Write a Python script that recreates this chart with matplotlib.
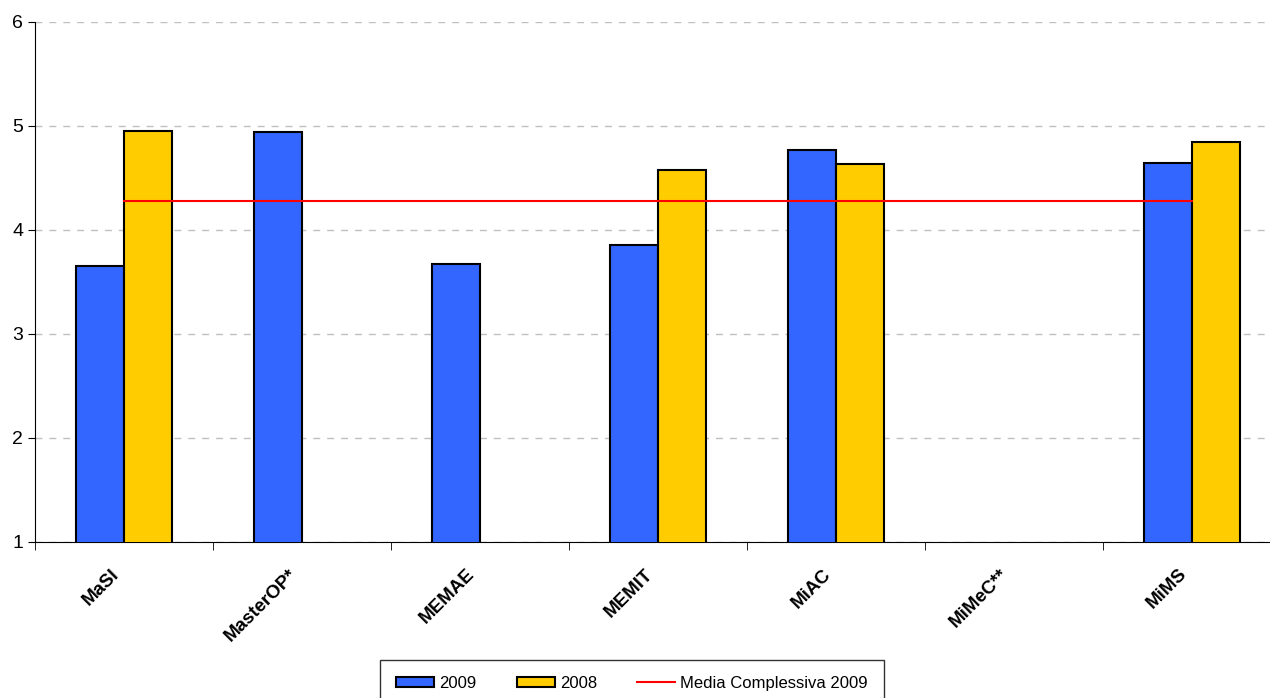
import numpy as np
from matplotlib import pyplot as plt
from matplotlib.ticker import FixedLocator, NullFormatter
from matplotlib.transforms import ScaledTranslation

plt.rcParams['font.family'] = ['Liberation Sans', 'DejaVu Sans']

categories = ["MaSI", "MasterOP*", "MEMAE", "MEMIT", "MiAC", "MiMeC**", "MiMS"]
values_2009 = [3.65, 4.94, 3.67, 3.86, 4.77, np.nan, 4.64]
values_2008 = [4.95, np.nan, np.nan, 4.58, 4.63, np.nan, 4.85]
media_2009 = 4.28

fig = plt.figure(figsize=(12.7, 6.98), dpi=100)
ax = fig.add_axes([35 / 1270, 1 - 542 / 698, 1246 / 1270, 520 / 698])

x = np.arange(len(categories))
w = 0.27
b1 = ax.bar(x - w / 2, values_2009, w, color="#3366ff", edgecolor="black", linewidth=1.5,
            label="2009", zorder=3)
b2 = ax.bar(x + w / 2, values_2008, w, color="#ffcc00", edgecolor="black", linewidth=1.5,
            label="2008", zorder=3)
ln, = ax.plot(x, [media_2009] * len(x), color="red", linewidth=1.5,
              label="Media Complessiva 2009", zorder=4)

ax.set_xlim(-0.5, len(categories) - 0.5)
ax.set_ylim(1, 6)
ax.set_yticks([1, 2, 3, 4, 5, 6])
ax.tick_params(axis="y", labelsize=14, length=5, direction="out")
ax.yaxis.grid(True, linestyle=(0, (5, 5)), color="#c0c0c0", linewidth=1, zorder=0)

ax.set_xticks(x)
ax.set_xticklabels(categories, rotation=45, ha="right", rotation_mode="anchor",
                   fontsize=13.5, fontweight="bold")
ax.tick_params(axis="x", length=0, pad=17)
shift = ScaledTranslation(-14 / 100, 0, fig.dpi_scale_trans)
for lab in ax.get_xticklabels():
    lab.set_transform(lab.get_transform() + shift)
ax.xaxis.set_minor_locator(FixedLocator(np.arange(-0.5, len(categories), 1)))
ax.xaxis.set_minor_formatter(NullFormatter())
ax.tick_params(axis="x", which="minor", length=6)

ax.spines["top"].set_visible(False)
ax.spines["right"].set_visible(False)

leg = fig.legend([b1, b2, ln], ["2009", "2008", "Media Complessiva 2009"],
                 loc="lower center", bbox_to_anchor=(632 / 1270, -0.024), ncol=3,
                 fontsize=12, frameon=True, fancybox=False, edgecolor="black",
                 handlelength=2.3, handleheight=0.55, handletextpad=0.3,
                 columnspacing=2.4, borderpad=0.95)
leg.get_frame().set_linewidth(1)

fig.savefig("out.png", dpi=100)
